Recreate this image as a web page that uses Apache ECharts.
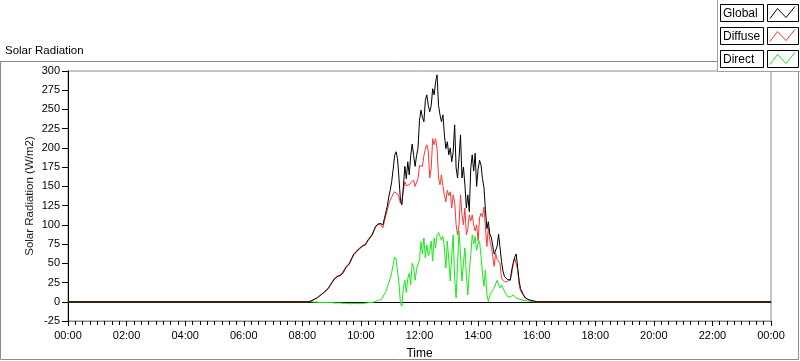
<!DOCTYPE html>
<html>
<head>
<meta charset="utf-8">
<script src="https://cdn.jsdelivr.net/npm/echarts@6/dist/echarts.min.js"></script>
<style>
html,body{margin:0;padding:0;background:#fff;}
#chart{width:800px;height:361px;}
</style>
</head>
<body>
<div id="chart"></div>
<script>
// ---- data ----
var seriesNames = ['Global', 'Diffuse', 'Direct'];
var seriesColors = ['#000000', '#ff3535', '#14ec14'];
var dayStartMinute = 0;
var dayEndMinute = 1440;
var sampleStartMinute = 480;   // 08:00
var sampleStepMinutes = 3;
var yTicks = [-25, 0, 25, 50, 75, 100, 125, 150, 175, 200, 225, 250, 275, 300];

var globalValues = [
  0,0,0,0,0,0,
  1,2,3,4,5,7,8,9,11,12,14,15,18,21,
  24,27,30,32,33,33,34,36,38,42,45,47,49,53,57,61,63,65,67,69,
  70,72,73,74,77,80,82,85,88,93,97,100,101,102,101,100,108,116,124,136,
  145,156,172,190,195,186,160,132,126,150,176,160,182,165,190,205,190,176,190,200,
  236,249,240,234,262,269,255,247,255,277,269,286,295,255,243,234,243,217,199,208,
  191,200,182,195,230,174,161,187,217,161,175,152,122,139,117,174,191,170,193,150,
  172,184,178,160,149,120,95,104,88,84,85,62,60,72,88,70,52,40,33,31,
  29,30,28,42,50,58,62,45,28,17,13,9,6,4,3,2.5,2,1.5,1,0.5,
  0,0
];
var diffuseValues = [
  0,0,0,0,0,0,
  1,2,3,4,5,7,8,9,11,12,14,16,19,22,
  25,28,30,32,33,34,35,37,39,43,46,48,50,54,58,62,64,66,68,70,
  71,73,74,75,78,81,83,86,89,94,98,100,101,101,99,96,104,112,119,127,
  132,136,140,143,145,140,136,128,132,145,156,151,150,152,155,156,158,150,152,160,
  177,178,176,190,198,204,196,161,174,212,204,212,199,161,152,165,150,139,130,145,
  138,143,122,139,130,100,87,100,139,113,100,122,87,95,113,105,113,100,92,100,
  79,109,115,110,123,97,72,97,80,72,59,46,63,55,54,50,30,28,26,24,
  26,25,30,37,50,57,59,42,22,14,11,8,5,4,3,2,1.5,1,1,0.5,
  0,0
];
var directValues = [
  0,0,0,0,0,0,
  0,-0.5,-0.5,-0.5,-0.5,-0.5,-1,-1,-1,-1,-1,-1,-1,-1,
  -1,-1,-1.5,-1.5,-1.5,-1.5,-1.5,-1.5,-2,-2,-2,-2,-2.5,-2.5,-2.5,-2.5,-2,-2,-2.5,-2.5,
  -2.5,-2,-2,-2,-1.5,-1.5,-1,-0.5,-1,0,0.5,1,2,1.5,3,5,10,13,19,25,
  30,38,48,58,55,40,24,-2,-6,18,28,12,30,37,22,50,45,28,42,40,
  55,78,62,83,57,74,60,65,79,53,83,70,87,90,92,80,85,70,44,79,
  55,27,60,87,30,5,50,92,60,27,50,70,35,9,40,61,87,75,85,67,
  76,79,59,37,20,41,10,0,8,12,15,18,20,28,22,18,22,18,20,10,
  7,9,6,8,9,7,5,4,3.5,3,2.5,2,1.5,1,1,0.5,0.5,0.5,0,0,
  0,0
];

// ---- build series data ----
function buildSeries(values) {
  var out = [[dayStartMinute, 0]];
  for (var i = 0; i < values.length; i++) {
    out.push([sampleStartMinute + i * sampleStepMinutes, values[i]]);
  }
  out.push([dayEndMinute, 0]);
  return out;
}
var allValues = [globalValues, diffuseValues, directValues];

function fmtTime(v) {
  var h = Math.floor(v / 60) % 24, m = Math.round(v % 60);
  return (h < 10 ? '0' : '') + h + ':' + (m < 10 ? '0' : '') + m;
}

var FONT = 'Liberation Sans';
var chart = echarts.init(document.getElementById('chart'), null, {renderer: 'canvas'});

var graphics = [
  {type: 'rect', z: -10, silent: true, shape: {x: 0.5, y: 61.5, width: 798, height: 298},
   style: {fill: 'none', stroke: '#8a8a8a', lineWidth: 1}},
  {type: 'rect', z: 50, silent: true, shape: {x: 717.5, y: -2, width: 86, height: 73.5},
   style: {fill: '#ffffff', stroke: '#a0a0a0', lineWidth: 1}}
];
seriesNames.forEach(function (name, i) {
  var top = Math.round(3.5 + i * 23.3) + 0.5;
  graphics.push({type: 'rect', z: 51, silent: true, shape: {x: 720.5, y: top, width: 43, height: 17},
    style: {fill: '#fff', stroke: '#000', lineWidth: 1}});
  graphics.push({type: 'text', z: 52, silent: true, x: 723, y: top + 9,
    style: {text: name, font: '12px ' + FONT, fill: '#000', textVerticalAlign: 'middle', verticalAlign: 'middle'}});
  graphics.push({type: 'rect', z: 51, silent: true, shape: {x: 767.5, y: top, width: 31, height: 17},
    style: {fill: '#fff', stroke: '#000', lineWidth: 1}});
  graphics.push({type: 'polyline', z: 52, silent: true,
    shape: {points: [[770, top + 14], [777.5, top + 4], [786, top + 13], [795, top + 2]]},
    style: {stroke: seriesColors[i], lineWidth: 1, fill: 'none'}});
});

var series = [];
[2, 1, 0].forEach(function (i) {
  series.push({
    name: seriesNames[i],
    type: 'line',
    data: buildSeries(allValues[i]),
    showSymbol: false,
    symbol: 'none',
    lineStyle: {color: seriesColors[i], width: 1},
    itemStyle: {color: seriesColors[i]},
    z: 3 + (2 - i),
    animation: false
  });
});

chart.setOption({
  animation: false,
  backgroundColor: '#ffffff',
  textStyle: {fontFamily: FONT},
  title: {
    text: 'Solar Radiation', left: 0, top: 40,
    textStyle: {fontSize: 11.5, fontWeight: 'normal', color: '#000', fontFamily: FONT}
  },
  grid: {left: 68, right: 29, top: 71, bottom: 40, outerBoundsMode: 'none', containLabel: false,
         show: true, borderColor: '#8a8a8a', borderWidth: 1, backgroundColor: '#fff'},
  xAxis: [{
    type: 'value', min: 0, max: 1440, interval: 120,
    name: 'Time', nameLocation: 'middle', nameGap: 27, nameMoveOverlap: false,
    nameTextStyle: {fontSize: 12, color: '#000', fontFamily: FONT},
    axisLine: {show: true, onZero: false, lineStyle: {color: '#8a8a8a', width: 1}},
    axisTick: {show: true, length: 5, lineStyle: {color: '#000'}},
    minorTick: {show: true, splitNumber: 8, length: 4, lineStyle: {color: '#000'}},
    splitLine: {show: false},
    axisLabel: {formatter: fmtTime, fontSize: 11, color: '#000', margin: 9, fontFamily: FONT}
  }, {
    type: 'value', min: 0, max: 1440, position: 'top',
    axisLine: {show: true, lineStyle: {color: '#000', width: 1}},
    axisTick: {show: false}, axisLabel: {show: false}, splitLine: {show: false}
  }],
  yAxis: {
    type: 'value', min: yTicks[0], max: yTicks[yTicks.length - 1], interval: 25,
    name: 'Solar Radiation (W/m2)', nameLocation: 'middle', nameGap: 32, nameRotate: 90,
    nameMoveOverlap: false,
    nameTextStyle: {fontSize: 11.5, color: '#1a1a1a', fontFamily: FONT},
    axisLine: {show: true, onZero: false, lineStyle: {color: '#000', width: 1}},
    axisTick: {show: true, length: 6, lineStyle: {color: '#000'}},
    splitLine: {show: false},
    axisLabel: {fontSize: 11, color: '#000', margin: 8, fontFamily: FONT}
  },
  series: series,
  graphic: graphics
});
</script>
</body>
</html>
